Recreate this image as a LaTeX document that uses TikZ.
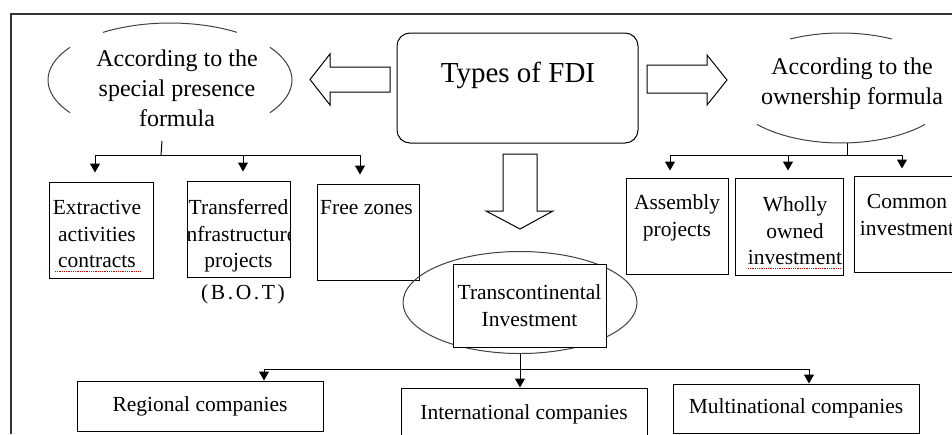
\documentclass[tikz,border=0pt]{standalone}
\usepackage{fontspec}
\setmainfont{Liberation Serif}
\usetikzlibrary{arrows.meta,shapes.geometric}

\newcommand{\boxfont}{\fontsize{21.5}{26.5}\selectfont}
\tikzset{
  box/.style={draw, line width=1pt, inner sep=0pt, align=center, font=\boxfont},
  txt/.style={inner sep=0pt, align=center, font=\boxfont},
  head/.style={inner sep=0pt, align=center, font=\fontsize{24}{30}\selectfont},
  ellarc/.style={line width=1pt, black!75},
  link/.style={line width=1pt},
  arr/.style={line width=1pt, -{Triangle[width=10pt,length=9pt]}},
  blk/.style={draw, line width=1pt, line join=miter},
  spell/.style={red!85!black, densely dotted, line width=0.8pt},
}

\begin{document}
\begin{tikzpicture}[x=1pt,y=-1pt]
\useasboundingbox (0,0) rectangle (952,434);
% frame
\draw[line width=1.2pt, black!80] (11,434) -- (11,14) -- (952,14);

% types of FDI
\node[draw, rounded corners=13pt, line width=1pt, minimum width=241pt, minimum height=110pt] (fdi) at (517.5,88) {};
\node[inner sep=0pt, font=\fontsize{29}{35}\selectfont] (fdi-t) at (518,75) {Types of FDI};

% block arrows
\draw[blk] (310,79.5) -- (330,54) -- (330,67) -- (390,67) -- (390,92) -- (330,92) -- (330,105) -- cycle;
\draw[blk] (647,65) -- (707,65) -- (707,55) -- (727,80) -- (707,105) -- (707,93) -- (647,93) -- cycle;
\draw[blk] (503,154) -- (537,154) -- (537,211) -- (553,211) -- (520,229) -- (486,211) -- (503,211) -- cycle;

% left branch
\node[head] (lform) at (177,88) {According to the\\special presence\\formula};
\draw[ellarc] (170,80) ++(-123.3:122 and 57) arc[start angle=-123.3, end angle=-56.7, x radius=122, y radius=57];
\draw[ellarc] (170,80) ++(145:122 and 57) arc[start angle=145, end angle=215, x radius=122, y radius=57];
\draw[ellarc] (170,80) ++(-35:122 and 57) arc[start angle=-35, end angle=35, x radius=122, y radius=57];
\coordinate (lfoot) at (162,141);
\coordinate (lbus) at (161,155);

\node[box, minimum width=104pt, minimum height=96pt] (extr) at (101,230) {};
\node[txt] (extr-t) at (97,234) {Extractive\\activities\\contracts};
\node[box, minimum width=103pt, minimum height=96pt] (bot) at (238.5,229) {};
\begin{scope}
  \clip (bot.south west) rectangle (bot.north east);
  \node[txt] (bot-t) at (238.5,236) {Transferred\\infrastructure\\projects};
\end{scope}
\node[txt] (bot-lbl) at (243,294) {\addfontfeature{LetterSpace=12}(B.O.T)};
\node[box, minimum width=102pt, minimum height=96pt] (free) at (368,232) {};
\node[txt, anchor=west] (free-t) at (320,208) {Free zones};
\draw[spell] (55,271) -- (140,271);

\draw[link] (lfoot) -- (lbus);
\draw[link] ([xshift=-6pt]extr.north |- lbus) -- ([xshift=-8pt]free.north |- lbus);
\foreach \n/\s in {extr/-6pt, bot/4.5pt, free/-8pt}
  \draw[arr, shorten >=9pt] ([xshift=\s]\n.north |- lbus) -- ([xshift=\s]\n.north);

% right branch
\node[head] (rform) at (852,84) {According to the\\ownership formula};
\draw[ellarc] (841,88) ++(-117:112 and 55) arc[start angle=-117, end angle=-63, x radius=112, y radius=55];
\draw[ellarc] (841,88) ++(41.4:112 and 55) arc[start angle=41.4, end angle=138.6, x radius=112, y radius=55];
\coordinate (rfoot) at (847,143);
\coordinate (rbus) at (847,155);

\node[box, minimum width=102pt, minimum height=96pt] (assm) at (677,226) {};
\node[txt] (assm-t) at (677,218) {Assembly\\projects};
\node[box, minimum width=108pt, minimum height=97pt] (whol) at (789,226.5) {};
\node[txt] (whol-t) at (795,231) {Wholly\\owned\\investment};
\node[box, minimum width=106pt, minimum height=96pt] (comm) at (907,224) {};
\node[txt] (comm-t) at (907,215) {Common\\investment};
\draw[spell] (748,268) -- (841,268);

\draw[link] (rfoot) -- (rbus);
\draw[link] ([xshift=-7pt]assm.north |- rbus) -- ([xshift=-5pt]comm.north |- rbus);
\foreach \n/\s in {assm/-7pt, whol/-1pt, comm/-5pt}
  \draw[arr, shorten >=7pt] ([xshift=\s]\n.north |- rbus) -- ([xshift=\s]\n.north);

% transcontinental
\node[draw, ellipse, line width=1pt, black!75, minimum width=234pt, minimum height=102pt, inner sep=0pt] (trans) at (520,302.5) {};
\node[box, fill=white, minimum width=153pt, minimum height=83pt] (trans-t) at (529.5,305.5) {Transcontinental\\Investment};
\coordinate (bbus) at (520,369);

\node[box, minimum width=246pt, minimum height=50pt] (reg) at (200,406) {Regional companies};
\node[box, minimum width=246pt, minimum height=52pt] (intl) at (524,414) {International companies};
\node[box, minimum width=246pt, minimum height=49pt] (mult) at (796,408.5) {Multinational companies};

\draw[link] (trans.south) -- (bbus);
\draw[link] ([xshift=64pt]reg.north |- bbus) -- ([xshift=13pt]mult.north |- bbus);
\foreach \n/\s in {reg/64pt, intl/-4pt, mult/13pt}
  \draw[arr] ([xshift=\s]\n.north |- bbus) -- ([xshift=\s]\n.north);
\end{tikzpicture}
\end{document}
